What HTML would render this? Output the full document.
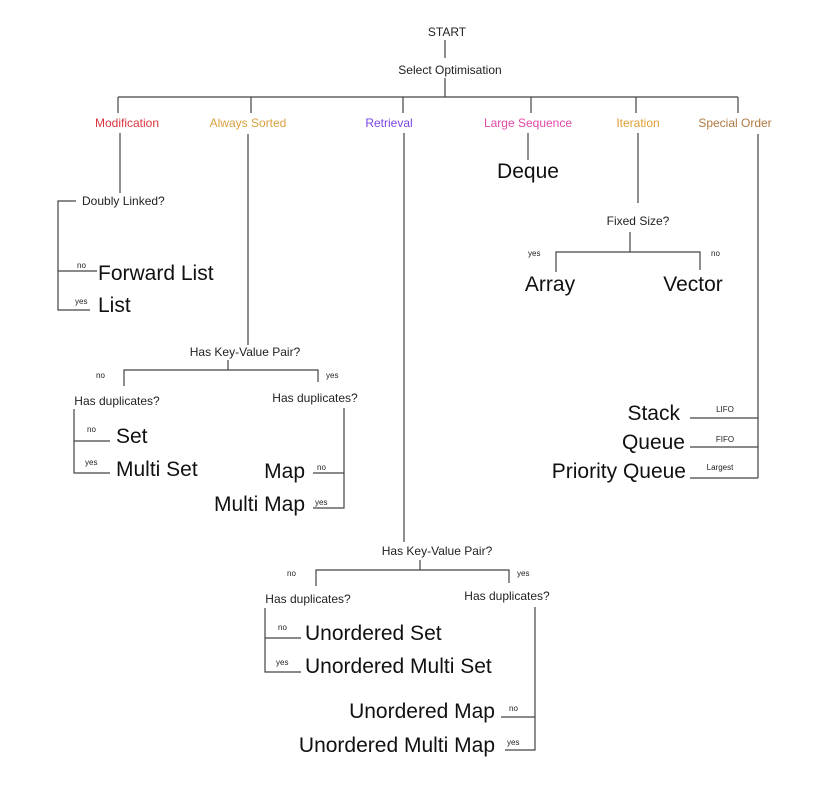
<!DOCTYPE html>
<html><head><meta charset="utf-8"><style>
html,body{margin:0;padding:0;background:#fff;}
svg{display:block;font-family:"Liberation Sans",Arial,sans-serif;}
.s{font-size:12px;fill:#222;}
.t{font-size:8px;fill:#222;}
.b{font-size:21px;fill:#111;}
line,polyline{stroke:#444;stroke-width:1.2;fill:none;}
</style></head><body>
<svg width="840" height="803" viewBox="0 0 840 803">
<text class="s" x="447" y="36" text-anchor="middle">START</text>
<line x1="445" y1="40" x2="445" y2="58"/>
<text class="s" x="450" y="74" text-anchor="middle">Select Optimisation</text>
<line x1="445" y1="78" x2="445" y2="97"/>
<line x1="118" y1="97" x2="738" y2="97"/>
<line x1="118" y1="97" x2="118" y2="113"/>
<line x1="251" y1="97" x2="251" y2="113"/>
<line x1="403" y1="97" x2="403" y2="113"/>
<line x1="531" y1="97" x2="531" y2="113"/>
<line x1="636" y1="97" x2="636" y2="113"/>
<line x1="738" y1="97" x2="738" y2="113"/>
<text class="s" x="127" y="127" text-anchor="middle" fill="#d9363e" style="fill:#d9363e">Modification</text>
<text class="s" x="248" y="127" text-anchor="middle" style="fill:#d9a040">Always Sorted</text>
<text class="s" x="389" y="127" text-anchor="middle" style="fill:#7a45e6">Retrieval</text>
<text class="s" x="528" y="127" text-anchor="middle" style="fill:#e04aa8">Large Sequence</text>
<text class="s" x="638" y="127" text-anchor="middle" style="fill:#e0a035">Iteration</text>
<text class="s" x="735" y="127" text-anchor="middle" style="fill:#b07840">Special Order</text>

<!-- Modification -->
<line x1="120" y1="133" x2="120" y2="193"/>
<text class="s" x="82" y="205">Doubly Linked?</text>
<polyline points="76,201 58,201 58,310 90,310"/>
<line x1="58" y1="271" x2="97" y2="271"/>
<text class="t" x="77" y="268">no</text>
<text class="t" x="75" y="304">yes</text>
<text class="b" x="98" y="280">Forward List</text>
<text class="b" x="98" y="312">List</text>

<!-- Always Sorted -->
<line x1="248" y1="134" x2="248" y2="345"/>
<text class="s" x="245" y="356" text-anchor="middle">Has Key-Value Pair?</text>
<line x1="228" y1="360" x2="228" y2="370"/>
<polyline points="124,386 124,370 318,370 318,382"/>
<text class="t" x="96" y="378">no</text>
<text class="t" x="326" y="378">yes</text>
<text class="s" x="117" y="405" text-anchor="middle">Has duplicates?</text>
<text class="s" x="315" y="402" text-anchor="middle">Has duplicates?</text>
<polyline points="74,409 74,473 110,473"/>
<line x1="74" y1="441" x2="110" y2="441"/>
<text class="t" x="87" y="432">no</text>
<text class="t" x="85" y="465">yes</text>
<text class="b" x="116" y="443">Set</text>
<text class="b" x="116" y="476">Multi Set</text>
<polyline points="344,408 344,508 313,508"/>
<line x1="313" y1="473" x2="344" y2="473"/>
<text class="t" x="317" y="470">no</text>
<text class="t" x="315" y="505">yes</text>
<text class="b" x="305" y="478" text-anchor="end">Map</text>
<text class="b" x="305" y="511" text-anchor="end">Multi Map</text>

<!-- Retrieval -->
<line x1="404" y1="133" x2="404" y2="542"/>
<text class="s" x="437" y="555" text-anchor="middle">Has Key-Value Pair?</text>
<line x1="420" y1="560" x2="420" y2="570"/>
<polyline points="316,586 316,570 509,570 509,583"/>
<text class="t" x="287" y="576">no</text>
<text class="t" x="517" y="576">yes</text>
<text class="s" x="308" y="603" text-anchor="middle">Has duplicates?</text>
<text class="s" x="507" y="600" text-anchor="middle">Has duplicates?</text>
<polyline points="265,608 265,672 301,672"/>
<line x1="265" y1="638" x2="301" y2="638"/>
<text class="t" x="278" y="630">no</text>
<text class="t" x="276" y="665">yes</text>
<text class="b" x="305" y="640">Unordered Set</text>
<text class="b" x="305" y="673">Unordered Multi Set</text>
<polyline points="535,607 535,750 505,750"/>
<line x1="501" y1="717" x2="535" y2="717"/>
<text class="t" x="509" y="711">no</text>
<text class="t" x="507" y="745">yes</text>
<text class="b" x="495" y="718" text-anchor="end">Unordered Map</text>
<text class="b" x="495" y="752" text-anchor="end">Unordered Multi Map</text>

<!-- Large Sequence -->
<line x1="528" y1="133" x2="528" y2="160"/>
<text class="b" x="528" y="178" text-anchor="middle">Deque</text>

<!-- Iteration -->
<line x1="638" y1="133" x2="638" y2="203"/>
<text class="s" x="638" y="225" text-anchor="middle">Fixed Size?</text>
<line x1="630" y1="232" x2="630" y2="252"/>
<polyline points="556,272 556,252 700,252 700,270"/>
<text class="t" x="528" y="256">yes</text>
<text class="t" x="711" y="256">no</text>
<text class="b" x="550" y="291" text-anchor="middle">Array</text>
<text class="b" x="693" y="291" text-anchor="middle">Vector</text>

<!-- Special Order -->
<line x1="758" y1="134" x2="758" y2="478"/>
<line x1="690" y1="418" x2="758" y2="418"/>
<line x1="690" y1="447" x2="758" y2="447"/>
<line x1="690" y1="478" x2="758" y2="478"/>
<text class="t" x="725" y="412" text-anchor="middle">LIFO</text>
<text class="t" x="725" y="442" text-anchor="middle">FIFO</text>
<text class="t" x="720" y="470" text-anchor="middle">Largest</text>
<text class="b" x="680" y="420" text-anchor="end">Stack</text>
<text class="b" x="685" y="449" text-anchor="end">Queue</text>
<text class="b" x="686" y="478" text-anchor="end">Priority Queue</text>
</svg>
</body></html>
